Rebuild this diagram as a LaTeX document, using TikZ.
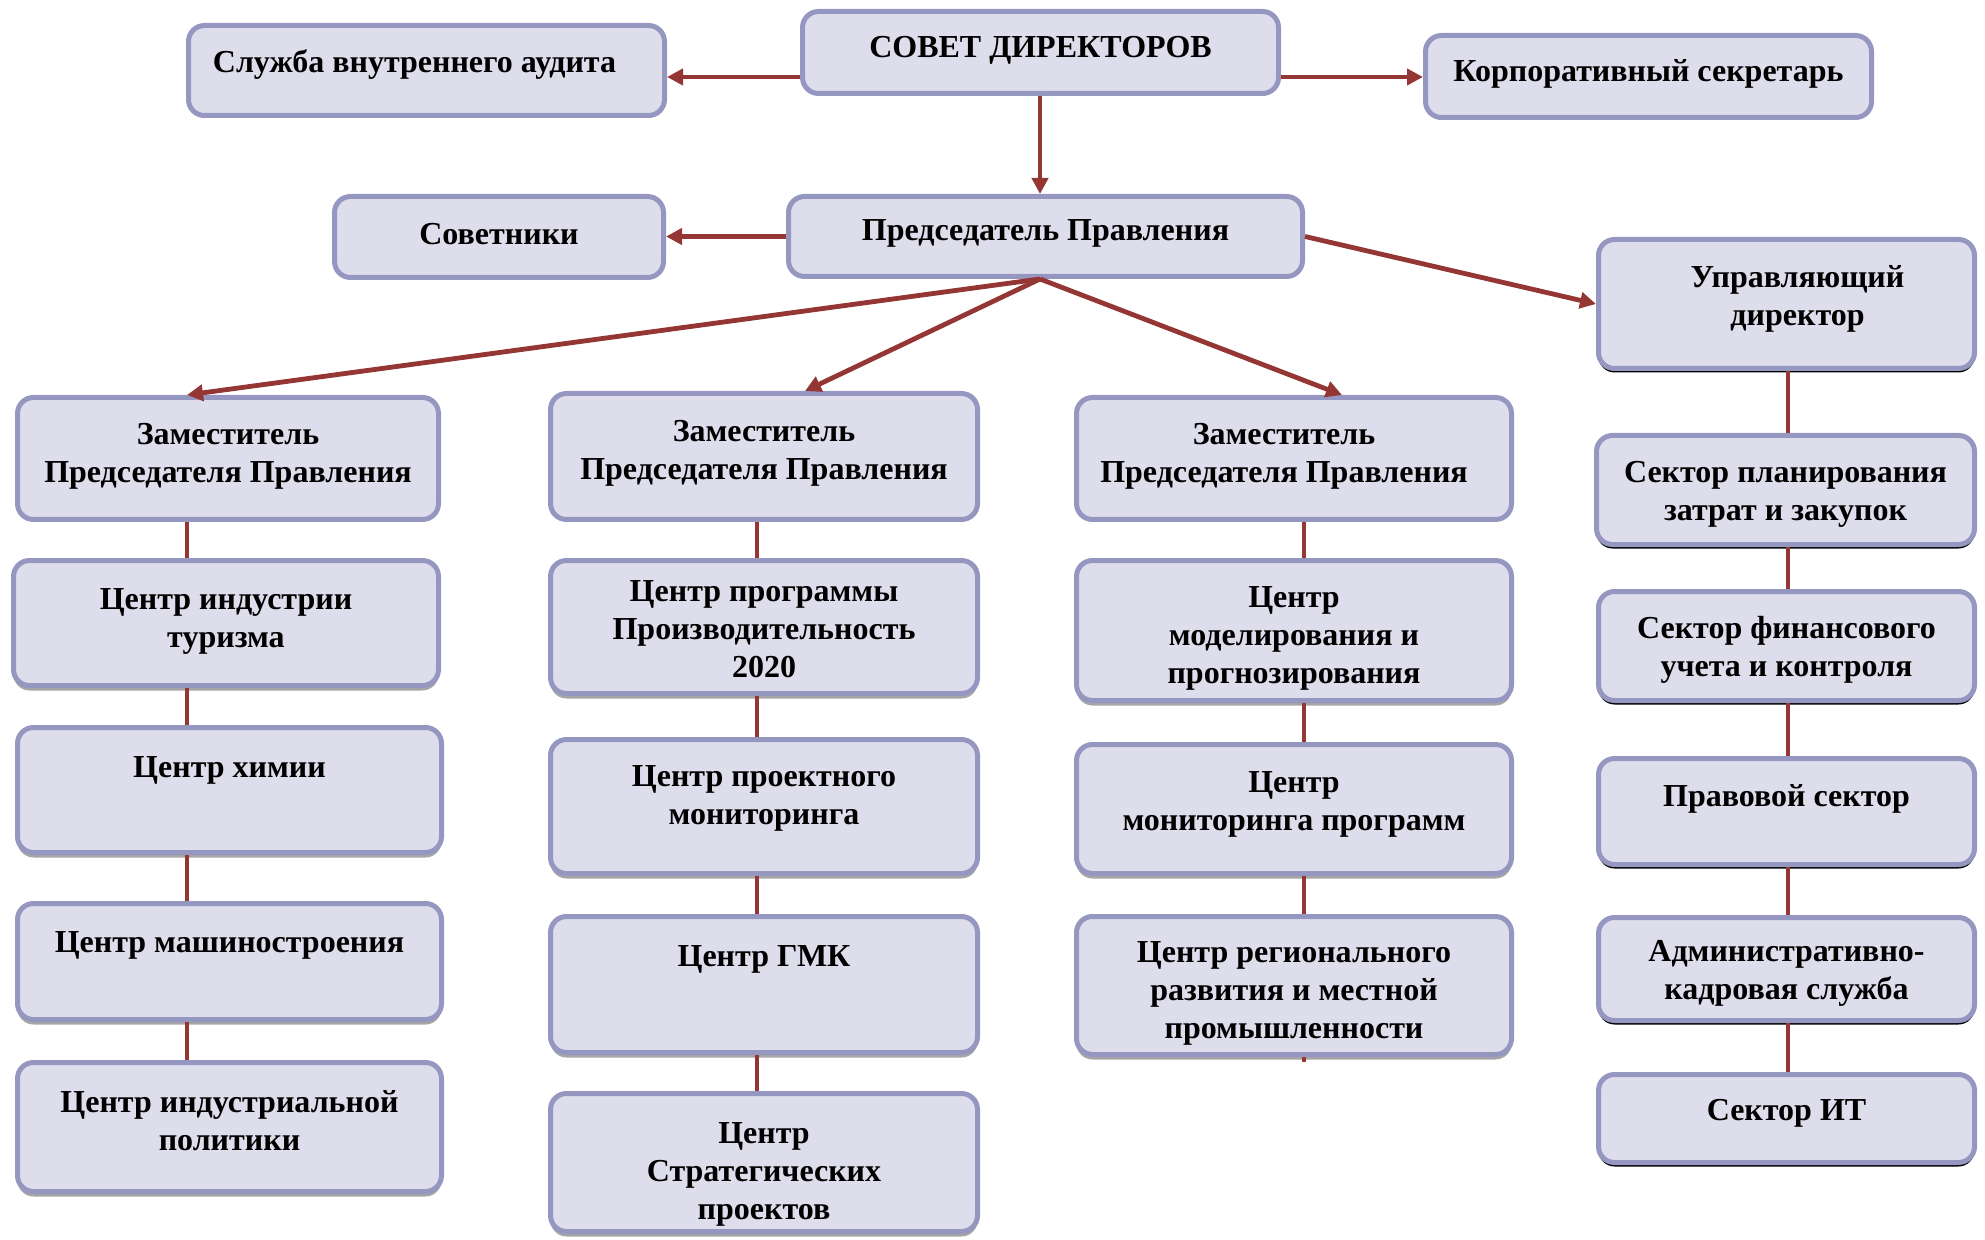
\documentclass[tikz,border=0pt]{standalone}
\usepackage{fontspec}
\setmainfont{Liberation Serif}
\usetikzlibrary{arrows.meta,shadows}
\definecolor{boxfill}{RGB}{221,221,235}
\definecolor{boxline}{RGB}{149,151,192}
\definecolor{conn}{RGB}{148,54,52}
\tikzset{
  boxbase/.style={draw=boxline,fill=boxfill,line width=2.5pt,rounded corners=8pt,inner sep=0pt},
  gshadow/.style={drop shadow={shadow xshift=0pt,shadow yshift=-2.5pt,fill=black!35,opacity=1}},
  kshadow/.style={drop shadow={shadow xshift=0pt,shadow yshift=-2pt,fill=black,opacity=1}},
  noshadow/.style={},
  txt/.style={font=\fontsize{16}{19}\selectfont\bfseries,align=center,inner sep=0pt},
  arr/.style={draw=conn,line width=2.4pt,-{Triangle[length=8pt,width=8pt]}},
  lnk/.style={draw=conn,line width=2.4pt}
}
% #1 style, #2 name, #3 x1, #4 y1, #5 x2, #6 y2, #7 text dx, #8 text y, #9 text
\newcommand{\bx}[9]{%
  \pgfmathsetmacro{\mybw}{(#5-#3-5)*0.5}%
  \pgfmathsetmacro{\mybh}{(#6-#4-5)*0.5}%
  \node[boxbase,#1,minimum width=\mybw pt,minimum height=\mybh pt] (#2) at ({(#3+#5)/2},{(#4+#6)/2}) {};
  \node[txt] (#2t) at ({(#3+#5)/2+#7},{#8+4}) {#9};
}
\begin{document}
\begin{tikzpicture}[x=0.5pt,y=-0.5pt]
\useasboundingbox (0,0) rectangle (1985,1240);
% top
\bx{noshadow}{aud}{186}{23}{667}{118}{-12}{61}{Служба внутреннего аудита}
\bx{noshadow}{sov}{800}{9}{1281}{96}{0}{46}{СОВЕТ ДИРЕКТОРОВ}
\bx{noshadow}{sec}{1423}{33}{1874}{120}{0}{70}{Корпоративный секретарь}
\bx{noshadow}{adv}{332}{194}{666}{280}{0}{230}{Советники}
\bx{noshadow}{pr}{786}{194}{1305}{279}{0}{229}{Председатель Правления}
\bx{kshadow}{ud}{1596}{237}{1977}{371}{11}{295}{Управляющий\\директор}
% deputies
\bx{noshadow}{z1}{15}{395}{441}{522}{0}{452}{Заместитель\\Председателя Правления}
\bx{noshadow}{z2}{548}{391}{980}{522}{0}{449}{Заместитель\\Председателя Правления}
\bx{noshadow}{z3}{1074}{395}{1514}{522}{-10}{452}{Заместитель\\Председателя Правления}
% column 1
\bx{gshadow}{a1}{11}{558}{441}{688}{0}{617}{Центр индустрии\\туризма}
\bx{gshadow}{a2}{15}{725}{444}{855}{0}{766}{Центр химии}
\bx{gshadow}{a3}{15}{901}{444}{1022}{0}{941}{Центр машиностроения}
\bx{gshadow}{a4}{15}{1060}{444}{1194}{0}{1117}{Центр индустриальной\\политики}
% column 2
\bx{gshadow}{b1}{548}{558}{980}{696}{0}{625}{\fontsize{16}{15.5}\selectfont Центр программы\\Производительность\\2020}
\bx{gshadow}{b2}{548}{737}{980}{876}{0}{794}{Центр проектного\\мониторинга}
\bx{gshadow}{b3}{548}{914}{980}{1055}{0}{955}{Центр ГМК}
\bx{gshadow}{b4}{548}{1091}{980}{1234}{0}{1170}{\fontsize{16}{18}\selectfont Центр\\Стратегических\\проектов}
% column 3
\bx{gshadow}{c1}{1074}{558}{1514}{703}{0}{634}{Центр\\моделирования и\\прогнозирования}
\bx{gshadow}{c2}{1074}{742}{1514}{876}{0}{800}{Центр\\мониторинга программ}
\bx{gshadow}{c3}{1074}{914}{1514}{1057}{0}{989}{Центр регионального\\развития и местной\\промышленности}
% column 4
\bx{kshadow}{d1}{1594}{433}{1977}{547}{0}{490}{Сектор планирования\\затрат и закупок}
\bx{kshadow}{d2}{1596}{589}{1977}{703}{0}{646}{Сектор финансового\\учета и контроля}
\bx{kshadow}{d3}{1596}{756}{1977}{867}{0}{795}{Правовой сектор}
\bx{kshadow}{d4}{1596}{915}{1977}{1023}{0}{969}{Административно-\\кадровая служба}
\bx{kshadow}{d5}{1596}{1072}{1977}{1165}{0}{1109}{Сектор ИТ}
% helper coordinates
\coordinate (yA) at (0,77);
\coordinate (x1) at (187,0);
\coordinate (x2) at (757,0);
\coordinate (x3) at (1304,0);
\coordinate (x4) at (1788,0);
\coordinate (e2) at (805,0);
\coordinate (e3) at (1342,0);
\coordinate (o) at (1040,0);
% connectors
\draw[arr] (sov.west |- yA) -- (aud.east |- yA);
\draw[arr] (sov.east |- yA) -- (sec.west |- yA);
\draw[arr] (o |- sov.south) -- (o |- pr.north);
\draw[arr] (pr.west) -- (adv.east |- pr.west);
\draw[arr] (pr.east) -- (ud.west);
\draw[arr] (o |- pr.south) -- (x1 |- z1.north);
\draw[arr] (o |- pr.south) -- (e2 |- z2.north);
\draw[arr] (o |- pr.south) -- (e3 |- z3.north);
% verticals
\draw[lnk] (x1 |- z1.south) -- (x1 |- a1.north);
\draw[lnk] (x1 |- a1.south) -- (x1 |- a2.north);
\draw[lnk] (x1 |- a2.south) -- (x1 |- a3.north);
\draw[lnk] (x1 |- a3.south) -- (x1 |- a4.north);
\draw[lnk] (x2 |- z2.south) -- (x2 |- b1.north);
\draw[lnk] (x2 |- b1.south) -- (x2 |- b2.north);
\draw[lnk] (x2 |- b2.south) -- (x2 |- b3.north);
\draw[lnk] (x2 |- b3.south) -- (x2 |- b4.north);
\draw[lnk] (x3 |- z3.south) -- (x3 |- c1.north);
\draw[lnk] (x3 |- c1.south) -- (x3 |- c2.north);
\draw[lnk] (x3 |- c2.south) -- (x3 |- c3.north);
\coordinate (stub) at (1304,1062);
\draw[lnk] (x3 |- c3.south) -- (stub);
\draw[lnk] (x4 |- ud.south) -- (x4 |- d1.north);
\draw[lnk] (x4 |- d1.south) -- (x4 |- d2.north);
\draw[lnk] (x4 |- d2.south) -- (x4 |- d3.north);
\draw[lnk] (x4 |- d3.south) -- (x4 |- d4.north);
\draw[lnk] (x4 |- d4.south) -- (x4 |- d5.north);
\end{tikzpicture}
\end{document}
